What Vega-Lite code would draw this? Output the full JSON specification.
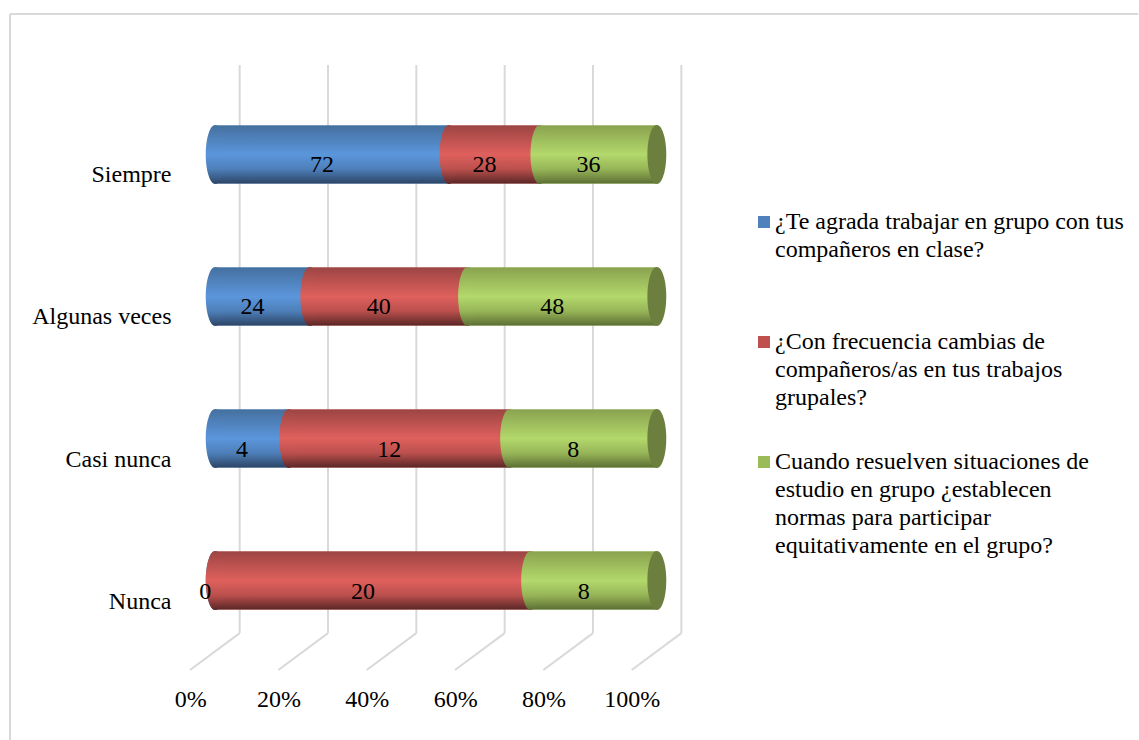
{
"$schema":"https://vega.github.io/schema/vega-lite/v6.json",
"width":530,"height":605,
"autosize":{"type":"none"},
"padding":{"left":171,"top":65,"right":438,"bottom":70},
"background":"white",
"config":{"view":{"stroke":null},"font":"Liberation Serif"},
"datasets":{
"lines":[
{"x":-0.4645,"x2":2.09,"y":108.43,"y2":108.43},
{"x":-0.4645,"x2":-0.4645,"y":108.43,"y2":-11.57},
{"x":0.0555,"x2":0.0555,"y":100,"y2":6.1},{"x":0.2555,"x2":0.2555,"y":100,"y2":6.1},{"x":0.4555,"x2":0.4555,"y":100,"y2":6.1},{"x":0.6555,"x2":0.6555,"y":100,"y2":6.1},{"x":0.8555,"x2":0.8555,"y":100,"y2":6.1},{"x":1.0555,"x2":1.0555,"y":100,"y2":6.1},
{"x":0.0555,"x2":-0.057,"y":6.1,"y2":0},{"x":0.2555,"x2":0.143,"y":6.1,"y2":0},{"x":0.4555,"x2":0.343,"y":6.1,"y2":0},{"x":0.6555,"x2":0.543,"y":6.1,"y2":0},{"x":0.8555,"x2":0.743,"y":6.1,"y2":0},{"x":1.0555,"x2":0.943,"y":6.1,"y2":0}
],
"bars":[
{"cat":"Siempre","serie":"¿Te agrada trabajar en grupo con tus compañeros en clase?","orden":1,"value":72},
{"cat":"Siempre","serie":"¿Con frecuencia cambias de compañeros/as en tus trabajos grupales?","orden":2,"value":28},
{"cat":"Siempre","serie":"Cuando resuelven situaciones de estudio en grupo ¿establecen normas para participar equitativamente en el grupo?","orden":3,"value":36},
{"cat":"Algunas veces","serie":"¿Te agrada trabajar en grupo con tus compañeros en clase?","orden":1,"value":24},
{"cat":"Algunas veces","serie":"¿Con frecuencia cambias de compañeros/as en tus trabajos grupales?","orden":2,"value":40},
{"cat":"Algunas veces","serie":"Cuando resuelven situaciones de estudio en grupo ¿establecen normas para participar equitativamente en el grupo?","orden":3,"value":48},
{"cat":"Casi nunca","serie":"¿Te agrada trabajar en grupo con tus compañeros en clase?","orden":1,"value":4},
{"cat":"Casi nunca","serie":"¿Con frecuencia cambias de compañeros/as en tus trabajos grupales?","orden":2,"value":12},
{"cat":"Casi nunca","serie":"Cuando resuelven situaciones de estudio en grupo ¿establecen normas para participar equitativamente en el grupo?","orden":3,"value":8},
{"cat":"Nunca","serie":"¿Te agrada trabajar en grupo con tus compañeros en clase?","orden":1,"value":0},
{"cat":"Nunca","serie":"¿Con frecuencia cambias de compañeros/as en tus trabajos grupales?","orden":2,"value":20},
{"cat":"Nunca","serie":"Cuando resuelven situaciones de estudio en grupo ¿establecen normas para participar equitativamente en el grupo?","orden":3,"value":8}
]},
"resolve":{"scale":{"y":"independent"}},
"layer":[
{"data":{"name":"lines"},
 "mark":{"type":"rule","stroke":"#D9D9D9","strokeWidth":2},
 "encoding":{
  "x":{"field":"x","type":"quantitative","scale":{"domain":[-0.1,1.1],"nice":false,"zero":false},
    "axis":{"title":null,"values":[0,0.2,0.4,0.6,0.8,1],"format":".0%","domain":false,"ticks":false,"grid":false,"labelOffset":-25,"labelPadding":17,"labelFont":"Liberation Serif","labelFontSize":24,"labelColor":"#000","labelFlush":false}},
  "x2":{"field":"x2"},
  "y":{"field":"y","type":"quantitative","scale":{"domain":[0,100],"nice":false,"zero":false},"axis":null},
  "y2":{"field":"y2"}}},
{"data":{"name":"bars"},
 "transform":[{"stack":"value","groupby":["cat"],"sort":[{"field":"orden","order":"ascending"}],"offset":"normalize","as":["x0","x1"]}],
 "encoding":{
  "y":{"field":"cat","type":"nominal","sort":["Siempre","Algunas veces","Casi nunca","Nunca"],
   "scale":{"paddingInner":0.5915,"paddingOuter":0.426},
   "axis":{"title":null,"domain":false,"ticks":false,"labelPadding":0,"labelOffset":21,"labelFont":"Liberation Serif","labelFontSize":24,"labelColor":"#000","grid":false}}
 },
 "layer":[
 {"mark":{"type":"bar"},
  "encoding":{
   "x":{"field":"x0","type":"quantitative"},
   "x2":{"field":"x1"},
   "color":{"field":"serie","type":"nominal","sort":{"field":"orden"},
    "scale":{"domain":["¿Te agrada trabajar en grupo con tus compañeros en clase?","¿Con frecuencia cambias de compañeros/as en tus trabajos grupales?","Cuando resuelven situaciones de estudio en grupo ¿establecen normas para participar equitativamente en el grupo?"],"range":["#4F81BD","#C0504D","#9BBB59"]},
    "legend":{"title":null,"orient":"none","legendX":581,"legendY":145,"direction":"vertical","columns":1,"gridAlign":"all","symbolType":"square","symbolSize":144,"symbolStrokeWidth":0,"labelFont":"Liberation Serif","labelFontSize":24,"labelColor":"#000","labelLimit":400,"labelOffset":-1,"labelBaseline":"top","rowPadding":12,
     "encoding":{"labels":{"lineHeight":{"value":28},"dy":{"value":-12}}},
     "labelExpr":"indexof(datum.label,'Te agrada')>=0?['¿Te agrada trabajar en grupo con tus','compañeros en clase?']:indexof(datum.label,'Con frecuencia')>=0?['¿Con frecuencia cambias de','compañeros/as en tus trabajos','grupales?']:['Cuando resuelven situaciones de','estudio en grupo ¿establecen','normas para participar','equitativamente en el grupo?']"}}
  }},
 {"transform":[{"filter":"datum.orden==1"}],"mark":{"type":"bar","fill":{"gradient":"linear","x1":0,"y1":0,"x2":0,"y2":1,"stops":[{"offset":0,"color":"#45709F"},{"offset":0.5,"color":"#5B96DC"},{"offset":0.75,"color":"#4E7FB9"},{"offset":1,"color":"#2C4565"}]}},
  "encoding":{"x":{"field":"x0","type":"quantitative"},"x2":{"field":"x1"}}},
 {"transform":[{"filter":"datum.orden==1"}],"mark":{"type":"point","filled":true,"opacity":1,"size":3481,"shape":"M0,-1 A0.32,1 0 1,0 0,1 A0.32,1 0 1,0 0,-1 Z","fill":{"gradient":"linear","x1":0,"y1":0,"x2":0,"y2":1,"stops":[{"offset":0,"color":"#45709F"},{"offset":0.5,"color":"#5B96DC"},{"offset":0.75,"color":"#4E7FB9"},{"offset":1,"color":"#2C4565"}]}},
  "encoding":{"x":{"field":"x0","type":"quantitative"}}},
 {"transform":[{"filter":"datum.orden==2"}],"mark":{"type":"bar","fill":{"gradient":"linear","x1":0,"y1":0,"x2":0,"y2":1,"stops":[{"offset":0,"color":"#9C4543"},{"offset":0.5,"color":"#DF605D"},{"offset":0.75,"color":"#BB504D"},{"offset":1,"color":"#5A2726"}]}},
  "encoding":{"x":{"field":"x0","type":"quantitative"},"x2":{"field":"x1"}}},
 {"transform":[{"filter":"datum.orden==2"}],"mark":{"type":"point","filled":true,"opacity":1,"size":3481,"shape":"M0,-1 A0.32,1 0 1,0 0,1 A0.32,1 0 1,0 0,-1 Z","fill":{"gradient":"linear","x1":0,"y1":0,"x2":0,"y2":1,"stops":[{"offset":0,"color":"#9C4543"},{"offset":0.5,"color":"#DF605D"},{"offset":0.75,"color":"#BB504D"},{"offset":1,"color":"#5A2726"}]}},
  "encoding":{"x":{"field":"x0","type":"quantitative"}}},
 {"transform":[{"filter":"datum.orden==3"}],"mark":{"type":"bar","fill":{"gradient":"linear","x1":0,"y1":0,"x2":0,"y2":1,"stops":[{"offset":0,"color":"#8AA24F"},{"offset":0.5,"color":"#B3D86B"},{"offset":0.75,"color":"#97B558"},{"offset":1,"color":"#5C6F34"}]}},
  "encoding":{"x":{"field":"x0","type":"quantitative"},"x2":{"field":"x1"}}},
 {"transform":[{"filter":"datum.orden==3"}],"mark":{"type":"point","filled":true,"opacity":1,"size":3481,"shape":"M0,-1 A0.32,1 0 1,0 0,1 A0.32,1 0 1,0 0,-1 Z","fill":{"gradient":"linear","x1":0,"y1":0,"x2":0,"y2":1,"stops":[{"offset":0,"color":"#8AA24F"},{"offset":0.5,"color":"#B3D86B"},{"offset":0.75,"color":"#97B558"},{"offset":1,"color":"#5C6F34"}]}},
  "encoding":{"x":{"field":"x0","type":"quantitative"}}},
 {"transform":[{"filter":"datum.orden==3"}],"mark":{"type":"point","filled":true,"opacity":1,"size":3481,"color":"#6C7F3E","shape":"M0,-1 A0.32,1 0 1,0 0,1 A0.32,1 0 1,0 0,-1 Z"},
  "encoding":{"x":{"field":"x1","type":"quantitative"}}},
 {"mark":{"type":"text","font":"Liberation Serif","fontSize":24,"color":"#000","dx":-10,"dy":11},
  "encoding":{
   "x":{"field":"value","type":"quantitative","stack":"normalize","bandPosition":0.5},
   "order":{"field":"orden"},
   "text":{"field":"value","type":"quantitative"}}}
 ]}
]}
